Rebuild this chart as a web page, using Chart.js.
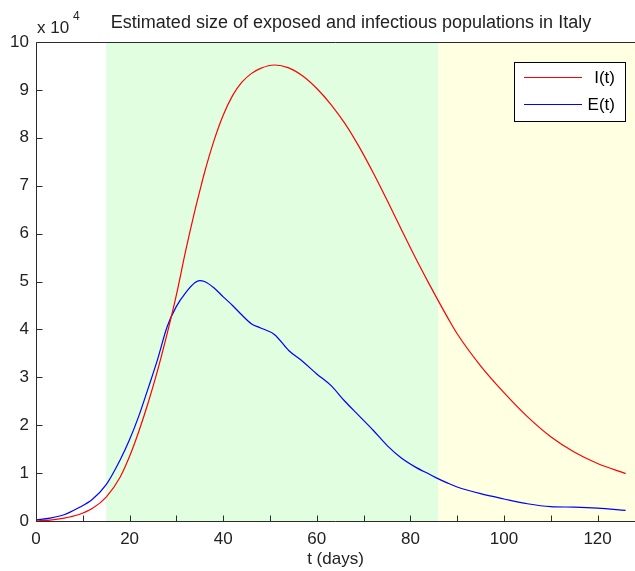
<!doctype html>
<html>
  <head>
    <script src="https://cdnjs.cloudflare.com/ajax/libs/Chart.js/4.4.1/chart.umd.js"></script>
    <style>
      body { margin: 0; background: #fff; }
    </style>
    <script>
      // days
      let tDays = [0, 3, 6, 9, 12, 15, 18, 20, 22, 24, 26, 28, 30, 32, 34, 35, 36, 38, 40, 42, 44, 46, 48, 51,
                   54, 57, 60, 63, 66, 69, 72, 75, 78, 81, 84, 86, 88, 90, 95, 100, 105, 110, 115, 120, 126];
      // infectious I(t)
      let infectious = [0, 200, 600, 1300, 2600, 5000, 9200, 13500, 18800, 24800, 31500, 39000, 47200, 56500, 65000, 68900,
                        72700, 79300, 84700, 88800, 91600, 93400, 94500, 95200, 94600, 92900, 90300, 87000, 83000, 78200,
                        72800, 67000, 61000, 55100, 49500, 45900, 42400, 39100, 32400, 26800, 21800, 17600, 14400, 12000, 9900];
      // exposed E(t)
      let exposed = [200, 600, 1300, 2700, 4500, 7600, 12800, 17000, 22000, 27800, 33800, 40500, 44800, 47700, 49800, 50200,
                     50000, 48700, 46800, 45000, 43000, 41200, 40300, 38900, 35600, 33300, 30700, 28300, 25000, 22000,
                     19000, 15800, 13200, 11300, 9800, 8800, 7900, 7100, 5700, 4600, 3600, 3000, 2900, 2700, 2200];

      let yTicks = [0, 1, 2, 3, 4, 5, 6, 7, 8, 9, 10];
      let xMax = 128;
      let bandStart = [15, 86];
      let bandEnd = [86, 128];
      let bandColors = ['#e1fee1', '#ffffe1'];

      let fontName = "'Liberation Sans', Arial, sans-serif";

      let bandsPlugin = {
        id: 'bands',
        beforeDatasetsDraw(chart) {
          let ctx = chart.ctx, a = chart.chartArea, x = chart.scales.x;
          ctx.save();
          for (let i = 0; i < bandStart.length; i++) {
            let x0 = x.getPixelForValue(bandStart[i]);
            let x1 = x.getPixelForValue(bandEnd[i]);
            ctx.fillStyle = bandColors[i];
            ctx.fillRect(x0, a.top, x1 - x0, a.bottom - a.top);
          }
          ctx.restore();
        }
      };

      let framePlugin = {
        id: 'frame',
        afterDraw(chart) {
          let ctx = chart.ctx, a = chart.chartArea;
          let xs = chart.scales.x, ys = chart.scales.y;
          ctx.save();
          ctx.strokeStyle = '#2b2b2b';
          ctx.lineWidth = 1;
          ctx.beginPath();
          let L = Math.round(a.left) + 0.5, B = Math.round(a.bottom) + 0.5, T = Math.round(a.top) + 0.5;
          ctx.moveTo(a.right, T); ctx.lineTo(L, T); ctx.lineTo(L, B); ctx.lineTo(a.right, B);
          ys.ticks.forEach(t => {
            let py = Math.round(ys.getPixelForValue(t.value)) + 0.5;
            ctx.moveTo(L, py); ctx.lineTo(L + 6, py);
          });
          xs.ticks.forEach(t => {
            let px = Math.round(xs.getPixelForValue(t.value)) + 0.5;
            ctx.moveTo(px, B); ctx.lineTo(px, B - 6);
          });
          ctx.stroke();

          // legend box
          let bx = 514.5, by = 62.5, bw = 111, bh = 59;
          ctx.fillStyle = '#fff';
          ctx.fillRect(bx, by, bw, bh);
          ctx.strokeStyle = '#000';
          ctx.strokeRect(bx, by, bw, bh);
          ctx.font = '17px ' + fontName;
          ctx.textAlign = 'right';
          ctx.textBaseline = 'middle';
          chart.data.datasets.forEach((ds, i) => {
            let ly = 77.5 + i * 27;
            ctx.strokeStyle = ds.borderColor;
            ctx.beginPath();
            ctx.moveTo(524, ly); ctx.lineTo(582, ly);
            ctx.stroke();
            ctx.fillStyle = '#000';
            ctx.fillText(ds.label, 615, ly + 1);
          });

          // title and exponent
          ctx.fillStyle = '#222';
          ctx.textAlign = 'center';
          ctx.textBaseline = 'alphabetic';
          ctx.font = '18px ' + fontName;
          ctx.fillText('Estimated size of exposed and infectious populations in Italy', 351, 28);
          ctx.textAlign = 'left';
          ctx.font = '17px ' + fontName;
          ctx.fillText('x 10', 37, 33);
          ctx.font = '12px ' + fontName;
          ctx.fillText('4', 73, 20);
          ctx.restore();
        }
      };

      function startPage() {
        new Chart(document.getElementById('c1'), {
          type: 'line',
          data: {
            datasets: [{
              label: 'I(t)',
              data: tDays.map((t, i) => ({ x: t, y: infectious[i] })),
              borderColor: '#ff0000',
              borderWidth: 1.2,
              pointRadius: 0,
              cubicInterpolationMode: 'monotone'
            }, {
              label: 'E(t)',
              data: tDays.map((t, i) => ({ x: t, y: exposed[i] })),
              borderColor: '#0000ff',
              borderWidth: 1.2,
              pointRadius: 0,
              cubicInterpolationMode: 'monotone'
            }]
          },
          options: {
            responsive: false,
            animation: false,
            layout: { padding: { top: 42, left: 0, right: 0, bottom: 0 } },
            plugins: { legend: { display: false }, tooltip: { enabled: false } },
            scales: {
              x: {
                type: 'linear', min: 0, max: xMax,
                grid: { display: false, drawTicks: false },
                border: { display: false },
                ticks: {
                  stepSize: 10, includeBounds: false, autoSkip: false, maxRotation: 0,
                  padding: 8, color: '#222', font: { family: fontName, size: 17 },
                  callback: v => (v % 20 === 0 ? v : '')
                },
                title: { display: true, text: 't (days)', color: '#222', font: { family: fontName, size: 17 }, padding: { top: 0, bottom: 1 } },
                afterFit: s => { s.height = 50; }
              },
              y: {
                min: 0, max: 100000,
                grid: { display: false, drawTicks: false },
                border: { display: false },
                ticks: {
                  stepSize: 10000, padding: 7, color: '#222', font: { family: fontName, size: 17 },
                  callback: v => (yTicks.includes(v / 10000) ? v / 10000 : '')
                },
                afterFit: s => { s.width = 36; }
              }
            }
          },
          plugins: [bandsPlugin, framePlugin]
        });
      }
    </script>
  </head>
  <body onload="startPage()">
    <canvas id="c1" width="635" height="571"></canvas>
  </body>
</html>
